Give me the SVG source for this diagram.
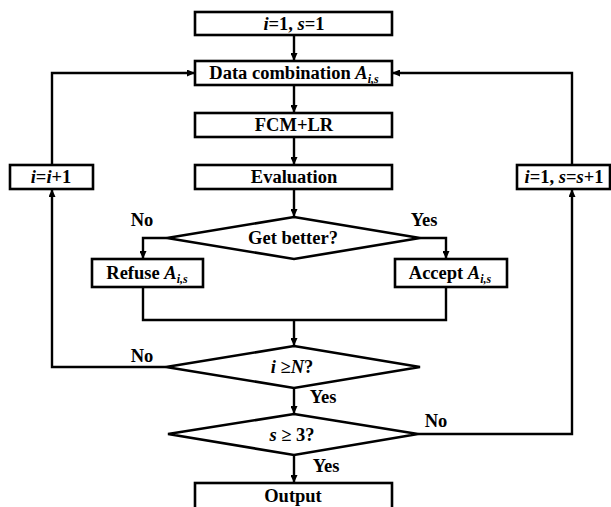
<svg xmlns="http://www.w3.org/2000/svg" width="611" height="507" viewBox="0 0 611 507" font-family="Liberation Serif, serif">
<style>
.box{fill:#fff;stroke:#000;stroke-width:2.6}
.ln{fill:none;stroke:#000;stroke-width:2.4}
.t{font-family:'Liberation Serif',serif;font-weight:bold;font-size:18.5px;fill:#000;text-anchor:middle}
.it{font-style:italic}
.sub{font-style:italic;font-size:12px}
</style>
<defs>
<marker id="ah" markerUnits="userSpaceOnUse" markerWidth="8" markerHeight="7" refX="8" refY="3.5" orient="auto">
<path d="M0,0 L8,3.5 L0,7 z" fill="#000"/>
</marker>
</defs>
<rect width="611" height="507" fill="#fff"/>
<g id="connectors">
<path class="ln" d="M294,35 V61" marker-end="url(#ah)"/>
<path class="ln" d="M294,85 V113" marker-end="url(#ah)"/>
<path class="ln" d="M294,137 V165" marker-end="url(#ah)"/>
<path class="ln" d="M294,189 V217" marker-end="url(#ah)"/>
<path class="ln" d="M167,238 H143 V259" marker-end="url(#ah)"/>
<path class="ln" d="M420,238 H446 V259" marker-end="url(#ah)"/>
<path class="ln" d="M143,287 V320 H446 V287"/>
<path class="ln" d="M294,320 V346" marker-end="url(#ah)"/>
<path class="ln" d="M166,367 H52 V189" marker-end="url(#ah)"/>
<path class="ln" d="M52,165 V73 H195" marker-end="url(#ah)"/>
<path class="ln" d="M294,388 V414" marker-end="url(#ah)"/>
<path class="ln" d="M418,434 H572 V189" marker-end="url(#ah)"/>
<path class="ln" d="M572,165 V73 H392" marker-end="url(#ah)"/>
<path class="ln" d="M294,455 V483" marker-end="url(#ah)"/>
<text x="142" y="226" class="t">No</text>
<text x="424" y="226" class="t">Yes</text>
<text x="142" y="362" class="t">No</text>
<text x="323" y="403" class="t">Yes</text>
<text x="436" y="427" class="t">No</text>
<text x="326" y="472" class="t">Yes</text>
</g>
<g id="start">
<rect class="box" x="195" y="12" width="197" height="23"/>
<text x="294" y="30" class="t"><tspan class="it">i</tspan>=1, <tspan class="it">s</tspan>=1</text>
</g>
<g id="data">
<rect class="box" x="195" y="61" width="197" height="24"/>
<text x="294" y="79" class="t">Data combination <tspan class="it">A</tspan><tspan class="sub" dy="4">i,s</tspan></text>
</g>
<g id="fcm">
<rect class="box" x="195" y="113" width="197" height="24"/>
<text x="294" y="131" class="t">FCM+LR</text>
</g>
<g id="eval">
<rect class="box" x="195" y="165" width="197" height="24"/>
<text x="294" y="183" class="t">Evaluation</text>
</g>
<g id="inc-i">
<rect class="box" x="10" y="165" width="83" height="24"/>
<text x="51" y="183" class="t"><tspan class="it">i</tspan>=<tspan class="it">i</tspan>+1</text>
</g>
<g id="inc-s">
<rect class="box" x="517" y="165" width="93" height="24"/>
<text x="564" y="183" class="t"><tspan class="it">i</tspan>=1, <tspan class="it">s</tspan>=<tspan class="it">s</tspan>+1</text>
</g>
<g id="better">
<polygon class="box" points="294,217 420,238 294,259 167,238"/>
<text x="293" y="244" class="t">Get better?</text>
</g>
<g id="refuse">
<rect class="box" x="92" y="259" width="111" height="28"/>
<text x="147" y="279" class="t">Refuse <tspan class="it">A</tspan><tspan class="sub" dy="4">i,s</tspan></text>
</g>
<g id="accept">
<rect class="box" x="395" y="259" width="112" height="28"/>
<text x="450" y="279" class="t">Accept <tspan class="it">A</tspan><tspan class="sub" dy="4">i,s</tspan></text>
</g>
<g id="check-i">
<polygon class="box" points="294,346 420,367 294,388 166,367"/>
<text x="292" y="373" class="t"><tspan class="it">i</tspan> &#8805;<tspan class="it">N</tspan>?</text>
</g>
<g id="check-s">
<polygon class="box" points="294,414 418,434 294,455 168,434"/>
<text x="292" y="441" class="t"><tspan class="it">s</tspan> &#8805; 3?</text>
</g>
<g id="output">
<rect class="box" x="195" y="483" width="197" height="28"/>
<text x="293" y="502" class="t">Output</text>
</g>
</svg>
